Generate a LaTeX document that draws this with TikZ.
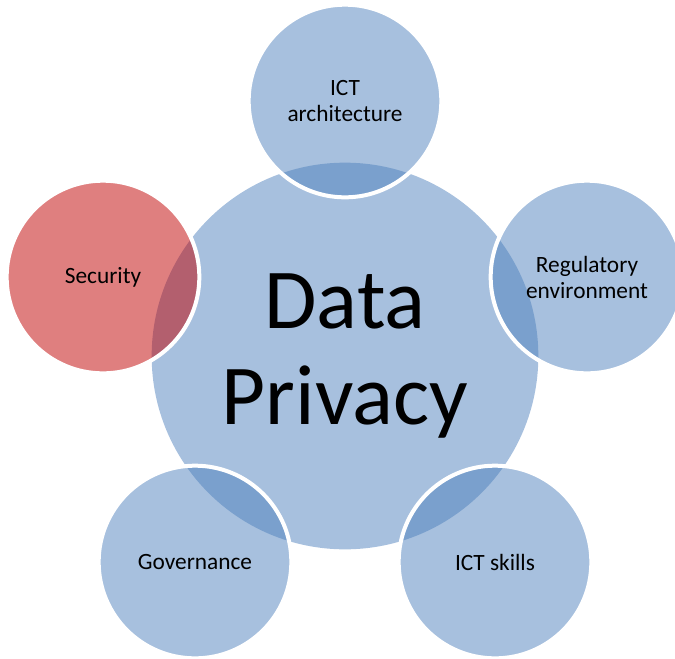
\documentclass[tikz,border=0pt]{standalone}
\usepackage{fontspec}
\setmainfont{Carlito}
\definecolor{accentblue}{RGB}{79,129,189}
\definecolor{accentred}{RGB}{191,0,0}
\tikzset{
  hub/.style={circle, fill=accentblue!50, minimum size=290pt, inner sep=0pt,
    align=center, font=\fontsize{64}{72}\selectfont},
  spoke/.style={circle, fill=accentblue, fill opacity=0.5, text opacity=1,
    draw=white, draw opacity=1, line width=3pt, minimum size=144.5pt, inner sep=0pt,
    align=center, font=\fontsize{17.5}{19.5}\selectfont},
  spokered/.style={spoke, fill=accentred}
}
\begin{document}
\begin{tikzpicture}[x=0.75pt,y=0.75pt,yscale=-1,xscale=1]
\useasboundingbox (0,0) rectangle (675,658);

%Shape: Circle (centre)
\node [hub] (privacy) at (345,356) {Data\\Privacy};

%Shape: Circle (top)
\node [spoke] (arch) at (345,101) {ICT\\architecture};
%Shape: Circle (right)
\node [spoke] (regul) at (587,277) {Regulatory\\environment};
%Shape: Circle (bottom right)
\node [spoke] (skills) at (495,562) {ICT skills};
%Shape: Circle (bottom left)
\node [spoke] (gov) at (195,562) {Governance};
%Shape: Circle (left)
\node [spokered] (secur) at (103,277) {Security};

\end{tikzpicture}
\end{document}
